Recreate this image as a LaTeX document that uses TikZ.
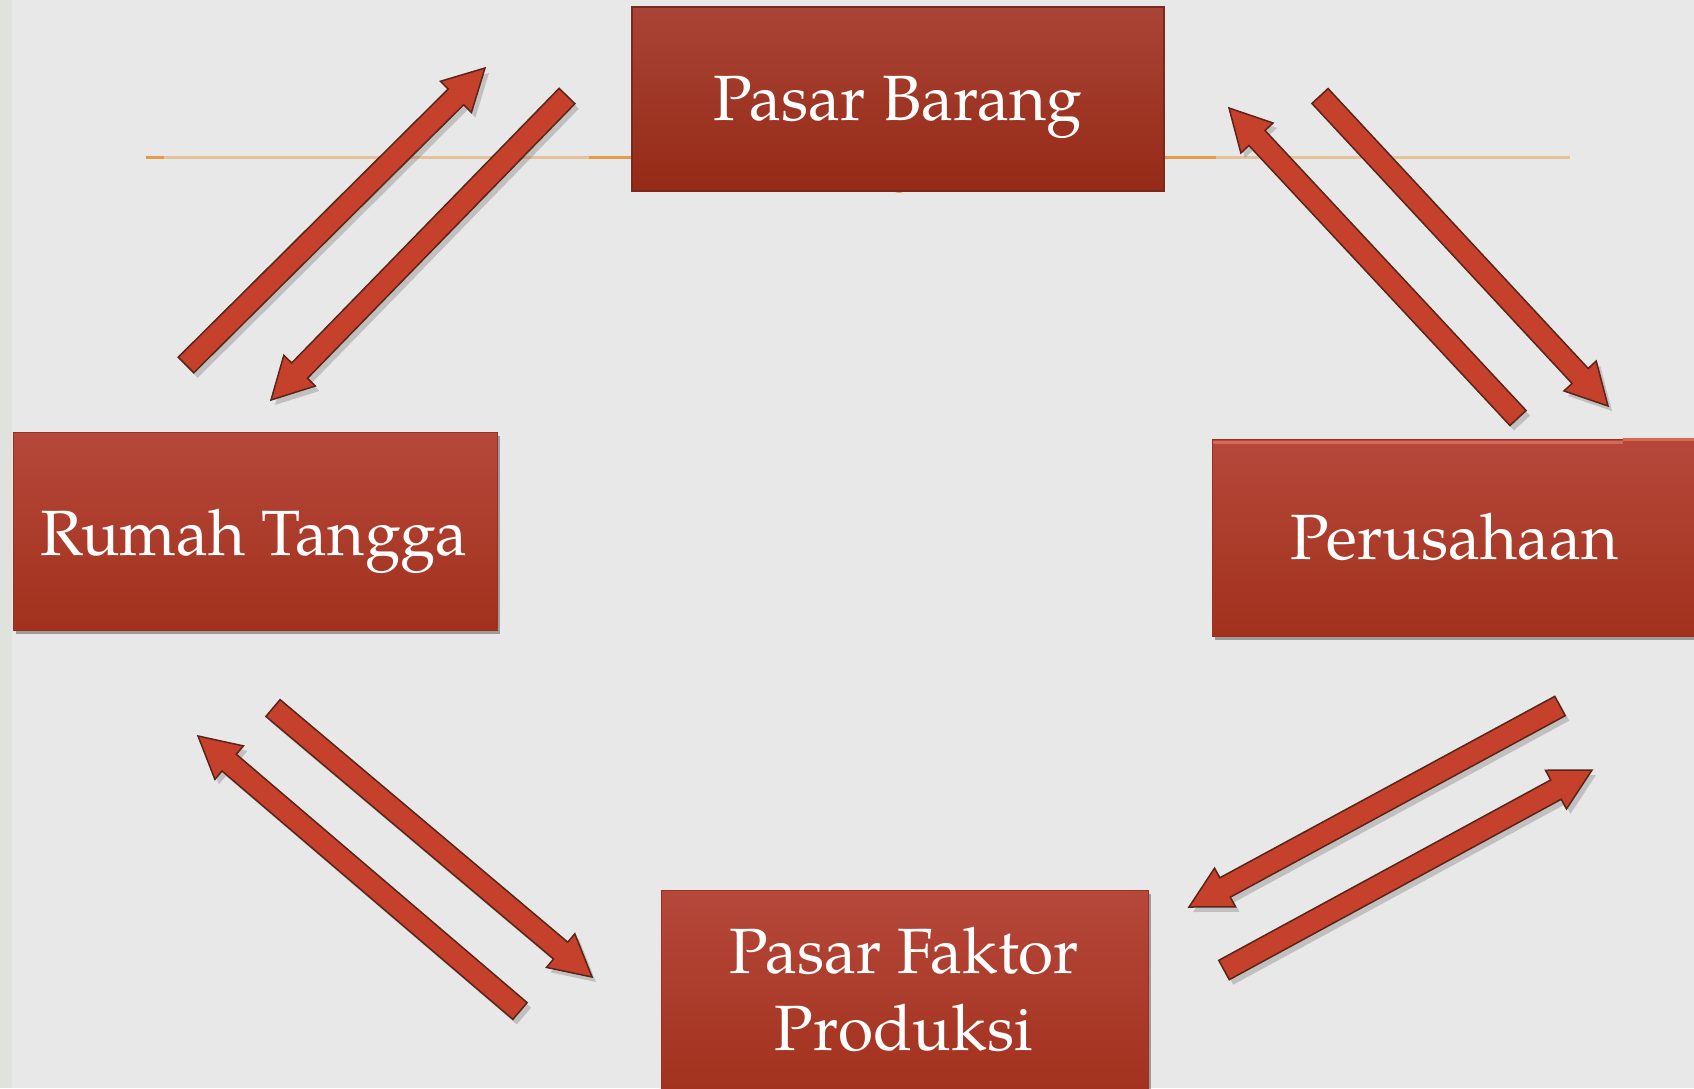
\documentclass[tikz,border=0pt]{standalone}
\usepackage{fontspec}
\setmainfont{TeX Gyre Pagella}
\usetikzlibrary{calc,shadows}
\definecolor{bg}{HTML}{E8E8E8}
\definecolor{leftstrip}{HTML}{E0E3DD}
\definecolor{tbtop}{HTML}{AA4436}
\definecolor{tbbot}{HTML}{952A16}
\definecolor{tbedge}{HTML}{782A1C}
\definecolor{obtop}{HTML}{B6483B}
\definecolor{obbot}{HTML}{A2311C}
\definecolor{obedge}{HTML}{9A301F}
\definecolor{arrfill}{HTML}{C6412C}
\definecolor{arredge}{HTML}{5A2418}
\definecolor{orangeline}{HTML}{E39B4C}
\definecolor{paleorange}{HTML}{E6C29A}
\definecolor{highlight}{HTML}{D86A55}
\newcommand{\blockarrow}[2]{%
  \draw[arrowbody]
    ($(#1)!11pt!90:(#2)$) --
    ($($(#2)!41pt!(#1)$)!11pt!90:(#2)$) --
    ($($(#2)!41pt!(#1)$)!22pt!90:(#2)$) --
    (#2) --
    ($($(#2)!41pt!(#1)$)!22pt!-90:(#2)$) --
    ($($(#2)!41pt!(#1)$)!11pt!-90:(#2)$) --
    ($(#1)!11pt!-90:(#2)$) -- cycle;}
\begin{document}
\begin{tikzpicture}[x=1pt,y=-1pt,
  topbox/.style={draw=tbedge, line width=2pt, top color=tbtop, bottom color=tbbot,
    inner sep=0pt, outer sep=0pt, minimum width=532pt, minimum height=184pt},
  otherbox/.style={draw=obedge, line width=1pt, top color=obtop, bottom color=obbot,
    inner sep=0pt, outer sep=0pt,
    drop shadow={shadow xshift=3pt, shadow yshift=-4pt, opacity=.45, fill=black!75}},
  lbl/.style={text=white, font=\fontsize{64}{77}\selectfont, inner sep=0pt, anchor=base},
  arrowbody/.style={fill=arrfill, draw=arredge, line width=1.5pt, line join=miter,
    drop shadow={shadow xshift=4pt, shadow yshift=-5pt, opacity=.25, fill=black!70}},
  orangeln/.style={line width=3pt}]
% background
\fill[bg] (0,0) rectangle (1694,1088);
\fill[leftstrip] (0,0) rectangle (12,1088);
\useasboundingbox (0,0) rectangle (1694,1088);
% orange line and small circle behind the top box
\draw[orangeln, orangeline] (146,157) -- (1570,157);
\draw[orangeln, paleorange] (164,157) -- (589,157);
\draw[orangeln, paleorange] (1216,157) -- (1570,157);
\fill[orangeline] (899,185) circle (8);
% boxes
\node[topbox] (pb) at (898,99) {};
\node[otherbox, minimum width=484pt, minimum height=198pt] (rt) at (255,531) {};
\node[otherbox, minimum width=500pt, minimum height=197pt] (pr) at (1462,537.5) {};
\node[otherbox, minimum width=487pt, minimum height=205pt] (pf) at (904.5,992.5) {};
\draw[highlight, line width=3pt] (1213,442) -- (1623,442);
\draw[highlight, line width=3pt] (1623,439) -- (1694,439);
% labels
\node[lbl] (pbl) at (898,120) {Pasar Barang};
\node[lbl] (rtl) at (254,555) {Rumah Tangga};
\node[lbl] (prl) at (1455,559) {Perusahaan};
\node[lbl] (pfl1) at (904,973) {Pasar Faktor};
\node[lbl] (pfl2) at (904,1050) {Produksi};
% arrow end points
\coordinate (aT) at (186,365);  \coordinate (aH) at (485,68);
\coordinate (bT) at (567,96);   \coordinate (bH) at (271,400);
\coordinate (cT) at (1518,418); \coordinate (cH) at (1229,108);
\coordinate (dT) at (1320,96);  \coordinate (dH) at (1608,406);
\coordinate (eT) at (520,1011); \coordinate (eH) at (198,736);
\coordinate (fT) at (273,708);  \coordinate (fH) at (592,977);
\coordinate (gT) at (1560,706); \coordinate (gH) at (1189,907);
\coordinate (hT) at (1224,970); \coordinate (hH) at (1592,770);
% arrows
\blockarrow{aT}{aH}
\blockarrow{bT}{bH}
\blockarrow{cT}{cH}
\blockarrow{dT}{dH}
\blockarrow{eT}{eH}
\blockarrow{fT}{fH}
\blockarrow{gT}{gH}
\blockarrow{hT}{hH}
\end{tikzpicture}
\end{document}
